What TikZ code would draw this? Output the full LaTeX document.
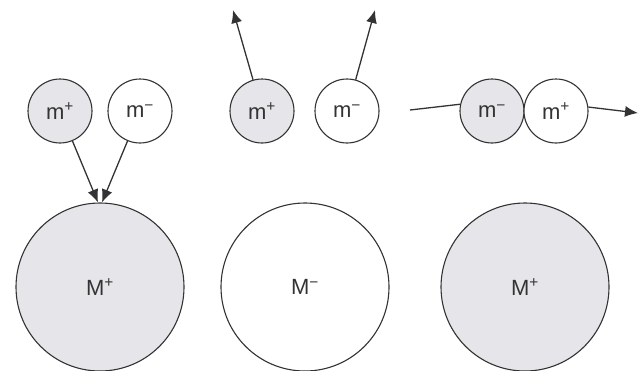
\documentclass[tikz,border=0pt]{standalone}
\usepackage{fontspec}
\setmainfont{Liberation Sans}
\usetikzlibrary{arrows.meta}
\definecolor{ionfill}{HTML}{E6E6EA}
\definecolor{ionline}{HTML}{333333}
\begin{document}
\begin{tikzpicture}[x=1pt,y=-1pt,
  >={Latex[length=13pt,width=11pt]},
  ion/.style={draw=ionline, line width=1.1pt, circle, inner sep=0pt, text=ionline,
    font=\fontsize{22}{26}\selectfont},
  small/.style={ion, minimum size=64pt},
  big/.style={ion, minimum size=168pt},
  arr/.style={draw=ionline, line width=1.3pt, ->}]
\useasboundingbox (0,0) rectangle (644,370);

% attraction of both ions
\node[big, fill=ionfill] (MA) at (100,287) {M\textsuperscript{+}};
\node[small, fill=ionfill] (pa) at (60,111) {m\textsuperscript{+}};
\node[small, fill=white] (ma) at (140,111) {m\textsuperscript{−}};

\draw[arr] (pa) -- ([xshift=-2pt]MA.north);
\draw[arr] (ma) -- ([xshift=2pt]MA.north);

% repulsion of both ions
\node[big, fill=white] (MB) at (305,287) {M\textsuperscript{−}};
\node[small, fill=ionfill] (pb) at (262,111) {m\textsuperscript{+}};
\node[small, fill=white] (mb) at (347,111) {m\textsuperscript{−}};

\coordinate (tippb) at (233,10);
\coordinate (tipmb) at (375,10);
\draw[arr] (pb) -- (tippb);
\draw[arr] (mb) -- (tipmb);

% ion pair passing by
\node[big, fill=ionfill] (MC) at (525,287) {M\textsuperscript{+}};
\node[small, fill=ionfill] (mc) at (492,111) {m\textsuperscript{−}};
\node[small, fill=white] (pc) at (556,111) {m\textsuperscript{+}};

\coordinate (tailc) at (410,110);
\coordinate (headc) at (638,113);
\draw[ionline, line width=1.3pt] (tailc) -- (mc.168);
\draw[arr] (pc.7) -- (headc);
\end{tikzpicture}
\end{document}
